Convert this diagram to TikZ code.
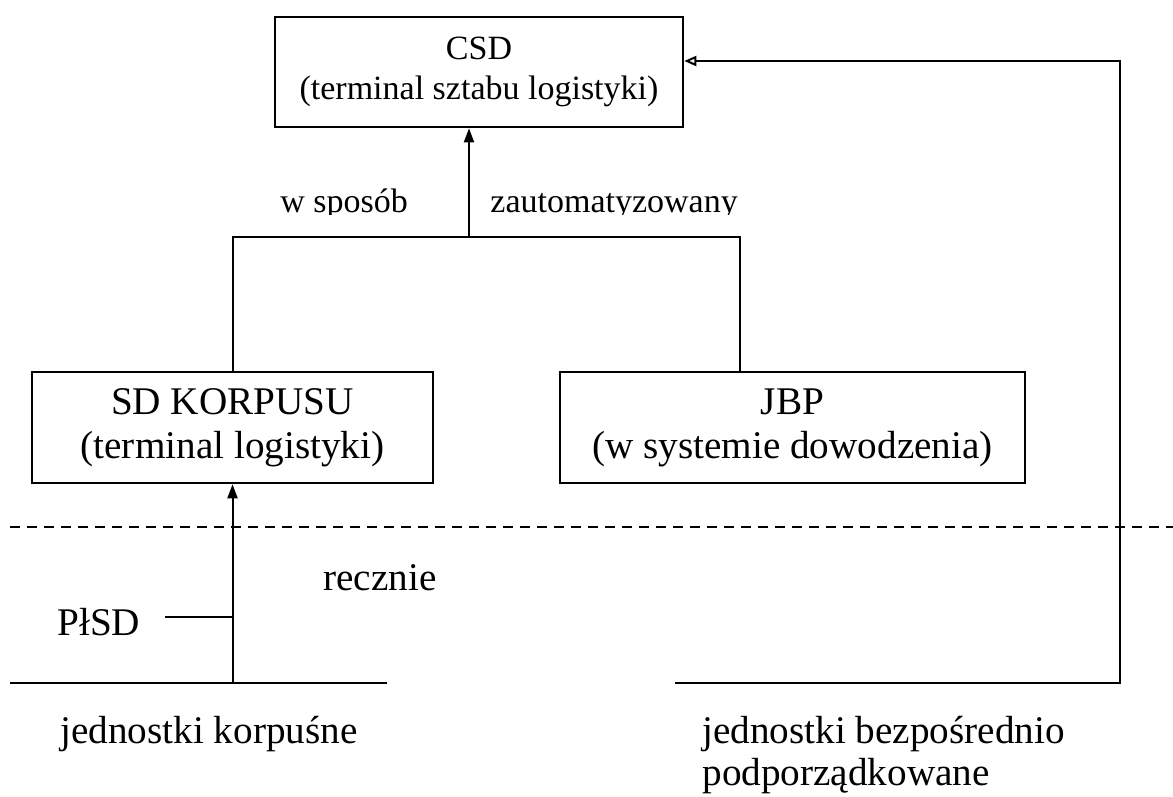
\documentclass[tikz,border=0pt]{standalone}
\usepackage{fontspec}
\setmainfont{Liberation Serif}
\usetikzlibrary{arrows.meta}
\begin{document}
\begin{tikzpicture}[x=0.5pt,y=-0.5pt,
  font=\fontsize{17pt}{20pt}\selectfont,
  big/.style={font=\fontsize{19.6pt}{22pt}\selectfont},
  unitbox/.style={draw,line width=1.3pt,inner sep=0pt,align=center},
  conn/.style={line width=1pt},
  arr/.style={conn,-{Triangle[length=7pt,width=5pt]}},
  openarr/.style={conn,-{Triangle[open,length=6pt,width=5pt]}},
  lbl/.style={anchor=base west,inner sep=0pt},
  sep/.style={line width=0.6pt,dash pattern=on 5pt off 3.5pt}]
\useasboundingbox (0,0) rectangle (1173,797);

% units
\node[unitbox,minimum width=204pt,minimum height=55pt] (csd) at (479,72)
  {CSD\\(terminal sztabu logistyki)};
\node[unitbox,big,minimum width=200.5pt,minimum height=55.5pt] (sd) at (232.5,427.5)
  {SD KORPUSU\\(terminal logistyki)};
\node[unitbox,big,minimum width=232.5pt,minimum height=55.5pt] (jbp) at (792.5,427.5)
  {JBP\\(w systemie dowodzenia)};

% automated link
\coordinate (j) at (469,237);
\coordinate (jr) at (740,237);
\draw[arr] (j) -- (j |- csd.south);
\draw[conn] (sd.north) |- (jr) -- (jr |- jbp.north);
\begin{scope}
  \clip (0,150) rectangle (1173,214);
  \node[lbl] (ws) at (280,213) {w sposób};
  \node[lbl] (za) at (490,213) {zautomatyzowany};
\end{scope}

% separator
\coordinate (d1) at (10,527);
\coordinate (d2) at (1173,527);
\draw[sep] (d1) -- (d2);

% manual link from corps units
\coordinate (bl1) at (10,683);
\coordinate (bl2) at (387,683);
\draw[conn] (bl1) -- (bl2);
\draw[arr] (sd.south |- bl1) -- (sd.south);
\node[lbl,big] (plsd) at (57,635) {PłSD};
\coordinate (p1) at (165,617);
\draw[conn] (p1) -- (p1 -| sd.south);
\node[lbl,big] (rc) at (323,590) {recznie};
\node[lbl,big] (jk) at (60,743) {jednostki korpuśne};

% directly subordinated units
\coordinate (br1) at (675,683);
\coordinate (br2) at (1120,683);
\coordinate (rt) at (1120,61);
\draw[openarr] (br1) -- (br2) -- (rt) -- (rt -| csd.east);
\node[lbl,big] (jb) at (702,743) {jednostki bezpośrednio};
\node[lbl,big] (pp) at (702,785) {podporządkowane};
\end{tikzpicture}
\end{document}
